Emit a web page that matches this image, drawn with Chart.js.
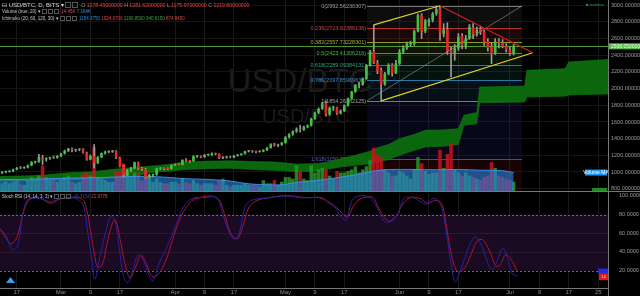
<!DOCTYPE html>
<html>
<head>
<meta charset="utf-8">
<script src="https://cdn.jsdelivr.net/npm/chart.js@4.4.1/dist/chart.umd.min.js"></script>
<style>
  body { margin:0; background:#000; width:640px; height:296px; overflow:hidden; position:relative; font-family:"Liberation Sans", Arial, sans-serif; }
  canvas { position:absolute; left:0; }
  .wm { position:absolute; color:#1b1b1b; white-space:nowrap; transform:translateX(-50%); line-height:1; }
  .row { position:absolute; left:2px; white-space:nowrap; color:#c8c8c8; font-size:4.5px; line-height:6px; z-index:5; }
  .b { display:inline-block; width:3px; height:3px; border:1px solid #555; margin-left:1px; vertical-align:middle; }
  .red { color:#e04848; } .blue { color:#2f8fe0; } .green { color:#3aa63a; } .gray { color:#9a9a9a; }
  .status { position:absolute; left:586px; top:2px; font-size:4px; line-height:5px; color:#2e9a6a; white-space:nowrap; z-index:5; }
</style>
</head>
<body>
<div class="wm" style="left:300px;top:64px;font-size:33px;">USD/BTC</div>
<div class="wm" style="left:306px;top:106px;font-size:20px;">USD/BTC</div>
<canvas id="priceCanvas" width="640" height="192" style="top:0"></canvas>
<canvas id="oscCanvas" width="640" height="104" style="top:192px"></canvas>

<div class="row" style="top:1px;font-size:6px;line-height:8px;color:#d8d8d8">&#8863; USD/BTC, D, BITS &#9662;<span class="b" style="width:4px;height:4px"></span><span class="b" style="width:4px;height:4px"></span>
  <span style="font-size:5.2px">&nbsp;<span class="gray">O</span> <span class="red">1278.49000000</span> <span class="gray">H</span> <span class="red">1281.62000000</span> <span class="gray">L</span> <span class="red">1175.97000000</span> <span class="gray">C</span> <span class="red">1219.80000000</span></span></div>
<div class="row" style="top:9px">Volume (true, 20) &#9662;<span class="b"></span><span class="b"></span><span class="b"></span>
  &nbsp;<span class="red">14.45K</span> <span class="blue">7.184K</span></div>
<div class="row" style="top:16px">Ichimoku (20, 60, 120, 30) &#9662;<span class="b"></span><span class="b"></span><span class="b"></span>
  &nbsp;<span class="blue">1154.3750</span> <span class="red">1024.6700</span> <span class="green">1190.8500</span> <span class="green">940.6150</span> <span class="red">874.9450</span></div>
<div class="row" style="top:194px">Stoch RSI (14, 14, 3, 3) &#9662;<span class="b"></span><span class="b"></span><span class="b"></span>
  &nbsp;<span style="color:#3a3ad0">16.7158</span> <span class="red">21.9778</span></div>
<div class="status">&#9632; realtime</div>

<script>
// ===== DATA: day 0 = 13 Feb, one candle per day =====
var openP = [992,998,1005,1010,1030,1058,1050,1056,1080,1118,
  1122,1175,1150,1164,1176,1170,1190,1222,1255,1283,
  1262,1268,1274,1234,1150,1192,1110,1178,1225,1240,
  1244,1252,1172,1070,968,1020,1045,1115,1043,1036,
  937,965,968,1040,1045,1040,1037,1078,1095,1088,
  1143,1138,1130,1190,1192,1180,1205,1208,1225,1215,
  1168,1176,1178,1176,1195,1206,1218,1246,1254,1245,
  1244,1248,1262,1288,1334,1318,1328,1350,1418,1452,
  1488,1515,1505,1542,1556,1638,1712,1758,1825,1690,
  1772,1775,1705,1730,1798,1882,1962,2042,2048,2120,
  2280,2445,2310,2220,2050,2180,2285,2185,2300,2440,
  2490,2530,2535,2690,2880,2690,2798,2822,2900,2955,
  2655,2712,2462,2430,2484,2634,2514,2604,2732,2664,
  2712,2684,2564,2504,2424,2564,2552,2512,2464,2426];
var highP = [1005,1012,1016,1035,1055,1065,1062,1085,1125,1130,
  1212,1200,1172,1180,1192,1198,1228,1262,1285,1290,
  1275,1280,1280,1240,1205,1330,1185,1230,1250,1255,
  1260,1258,1180,1080,1030,1055,1120,1120,1055,1045,
  975,975,1048,1052,1050,1050,1085,1095,1105,1148,
  1160,1140,1195,1200,1195,1210,1215,1230,1228,1218,
  1185,1185,1190,1200,1212,1222,1250,1260,1258,1250,
  1255,1268,1295,1340,1345,1335,1355,1425,1460,1495,
  1530,1560,1550,1565,1645,1720,1770,1835,1850,1780,
  1790,1780,1745,1805,1890,1970,2050,2075,2130,2290,
  2460,2765,2340,2250,2195,2300,2300,2340,2470,2515,
  2560,2570,2705,2895,2900,2830,2840,2915,2992.56,2980,
  2780,2790,2500,2530,2660,2660,2640,2770,2780,2740,
  2750,2700,2600,2545,2600,2600,2590,2540,2500,2530];
var lowP = [980,990,998,1005,1025,1040,1042,1050,1075,1105,
  1115,1090,1130,1150,1162,1165,1185,1215,1245,1240,
  1245,1255,1225,1140,1145,1050,1100,1170,1215,1230,
  1235,1160,1060,940,960,1005,1040,1030,1020,925,
  930,940,960,1030,1025,1030,1035,1075,1085,1085,
  1125,1115,1128,1175,1170,1175,1195,1200,1205,1160,
  1160,1165,1170,1170,1190,1200,1215,1240,1235,1230,
  1238,1242,1255,1285,1310,1305,1320,1345,1405,1440,
  1475,1480,1500,1530,1550,1630,1700,1750,1670,1680,
  1740,1690,1695,1725,1790,1875,1955,2010,2040,2110,
  2270,2300,2180,1854.26,2040,2165,2150,2180,2290,2420,
  2470,2510,2520,2680,2600,2670,2750,2800,2880,2580,
  2620,2410,2140,2340,2460,2480,2480,2590,2600,2630,
  2650,2520,2450,2300,2410,2490,2490,2440,2400,2405];
var closeP = [998,1005,1010,1030,1048,1052,1056,1080,1118,1122,
  1180,1150,1164,1172,1170,1192,1222,1255,1280,1262,
  1268,1274,1234,1150,1192,1110,1178,1225,1240,1244,
  1252,1172,1070,968,1020,1045,1115,1043,1036,937,
  965,968,1040,1045,1040,1037,1078,1088,1088,1143,
  1138,1130,1190,1192,1180,1205,1208,1225,1215,1168,
  1176,1178,1176,1195,1206,1218,1246,1254,1245,1244,
  1248,1262,1288,1334,1318,1328,1350,1418,1452,1488,
  1510,1505,1542,1556,1638,1712,1758,1825,1690,1772,
  1775,1705,1730,1798,1882,1962,2042,2048,2120,2280,
  2445,2310,2210,2050,2180,2285,2185,2300,2440,2490,
  2540,2560,2690,2880,2690,2820,2822,2900,2955,2665,
  2712,2448,2430,2484,2622,2518,2602,2742,2652,2702,
  2676,2552,2488,2418,2564,2546,2506,2466,2426,2508.05];
// volume in thousands of BTC
var volumeK = [5,6,5,6,7,5,4,7,9,8,
  10,16.6,9,7,8,6,8,9,10,6,
  5,6,11,12,10,28.5,9,8,7,6,
  6,13,13,18,12,9,12,12,7,13,
  9,6,8,6,5,5,6,6,5,8,
  6,5,7,5,4,5,5,5,4,7,
  8,4,3,4,4,4,5,4,4,4,
  3,7,5,5,7,4,6,9,9,8,
  16.6,13,8,7,16.6,12,14,15,14,10,
  8,13,12,12,13,14,16,12,14,16,
  20,28,23.7,22,14,12,10,10,13,12,
  10,8,14,22,18,13,11,12,12,26.8,
  15,24,30.7,14,12,10,12,10,9,8,
  7,9,10,18.7,15,10,9,8,7,6];
var volMaDays = [-0.6,5,10,16,22,28,32,38,44,50,56,62,66,70,76,80,86,92,96,100,104,110,118,124,130,136,139];
var volMaK = [7.5,7.5,7.8,8.2,8.5,8.8,9.2,9.5,9.0,8.0,7.5,6.5,5.0,4.2,4.0,5.5,7.0,9.0,10.5,12.5,13.8,14.0,13.8,14.0,13.5,13.2,12.0];

// Ichimoku cloud edges (projected 30 days ahead)
var cloudDays = [-0.6,8,12,18,24,30,36,40,44,50,56,62,68,74,80,85,88,92,96,100,102,105,108,112,115,120,124,125.5,129,129.8,142,142.6,153,154,164.7];
var cloudTop = [945,955,965,990,1000,1030,1055,1070,1085,1120,1130,1135,1125,1120,1095,1100,1115,1160,1200,1250,1290,1330,1400,1450,1500,1505,1520,1680,1715,2020,2030,2220,2240,2320,2350];
var cloudBot = [890,895,900,905,915,930,945,990,1005,1030,1040,1045,1030,1020,1005,1010,1030,1060,1080,1100,1120,1150,1200,1260,1300,1310,1330,1560,1580,1830,1840,1900,1910,1925,1935];

// Stoch RSI
var stochKDays = [-0.6,1,2.2,3.3,4.4,5.5,6.6,7.7,10.5,12.7,14.4,16,18.8,21,22.2,23.3,24.4,25.2,26.6,28.3,29.6,30.8,31.8,33,34.2,35.5,37.1,38.5,39.9,41,42.7,44.9,47.1,49.3,51.6,54.9,58.2,59.9,61.5,62.9,64.3,66,67.6,70.4,72.6,77,81.5,83.7,87.1,88.2,90.4,92.1,93.5,95.1,97,99.8,102,103.7,105.4,107.6,109.2,111.5,113.7,115.3,117,118.7,119.8,120.9,122,123.1,124.2,125.9,127.5,128.6,130.3,132,133.1,134.5,136.1,137.5,138.6,140];
var stochK = [65,58,46,42,49,78,94,97,97,94,95,97,98,95,88,60,31,11,35,63,78,71,46,14,7,21,37,30,15,9,28,46,67,88,97,98,98,81,63,54,58,88,95,97,98,100,98,98,98,94,88,78,74,95,100,98,87,73,72,81,97,98,94,91,97,94,81,56,28,8,17,35,51,56,47,28,21,30,44,31,17,14];
var stochDDays = [-0.6,2.2,3.3,4.4,6,7.7,10.5,13.3,16,21.5,23,24,25.2,26,27.2,28.5,30,30.8,32.1,33.2,34.7,36,37.7,39.1,40.7,42.1,44.2,46,48.2,50.5,52.7,58.2,60.4,62,63.8,65.4,67.1,69.3,72.6,77,82.6,86,89.3,91.5,93.7,96,98.2,100.8,102.3,105,107,108.7,110.9,113.7,115.5,117.8,119.4,120.6,122,123.7,125.3,127,129,130.5,132.5,134.2,135.3,136.9,138.6,140];
var stochD = [65,49,51,60,85,97,97,92,97,97,85,63,35,24,26,49,71,74,53,31,12,21,36,28,14,15,28,49,74,90,97,98,81,61,54,67,88,95,98,100,98,98,92,85,78,92,98,98,87,73,78,90,98,97,92,95,92,71,39,19,21,33,51,53,41,25,26,37,30,19];

// Fibonacci retracement (drawn from the May low to the June high)
var fibLevels = ['0','0.236','0.382','0.5','0.618','0.786','1','1.618'];
var fibPrices = [2992.56230307,2723.92386136,2557.73228301,2423.41306216,2289.09384131,2097.85969636,1854.26382125,1150.78535950];
var fibStartDay = 99.2, fibEndDay = 141.3;
var fibLine = ['#7a7a7a','#b83030','#8e9a2e','#3d9a3d','#22876a','#2a78a8','#7a7a7a','#4646a8'];
var fibText = ['#9a9a9a','#d04545','#a9b43e','#4fb24f','#2fa283','#3790d0','#a0a0a0','#5a5ad0'];
var fibZone = ['rgba(120,120,120,0.10)','rgba(190,60,40,0.13)','rgba(150,150,40,0.13)','rgba(60,160,60,0.12)','rgba(30,150,120,0.12)','rgba(40,120,170,0.12)','rgba(40,40,150,0.17)','rgba(150,25,25,0.16)'];

// hand drawn trend lines
var channelTop = [{x:101, y:2765}, {x:119, y:2995}];
var channelBottom = [{x:103, y:1854}, {x:144.2, y:2431}];
var fallingLine = [{x:119, y:2995}, {x:144.2, y:2431}];
var fibDiagonal = [{x:fibStartDay, y:1854.26}, {x:fibEndDay, y:2992.56}];
var lastPrice = 2508.05;

// axes
var tickDays = [4,16,24,32,47,55,63,77,85,93,108,116,124,138,146,154,162];
var tickLabels = ['17','Mar','9','17','Apr','9','17','May','9','17','Jun','9','17','Jul','9','17','25'];
var priceTicks = [800,1000,1200,1400,1600,1800,2000,2200,2400,2600,2800,3000];
var stochTicks = [20,40,60,80,100];
var xMin = -0.57, xMax = 164.65;

// ===== BUILD POINTS =====
var bodies = [], wicks = [], vols = [], bodyColors = [], volColors = [];
for (var i = 0; i < closeP.length; i++) {
    var up = closeP[i] >= openP[i];
    bodies.push({x: i, y: [openP[i], closeP[i]]});
    wicks.push({x: i, y: [lowP[i], highP[i]]});
    vols.push({x: i, y: volumeK[i]});
    bodyColors.push(up ? '#3cc43c' : '#e82424');
    volColors.push(up ? 'rgba(40,150,40,0.85)' : 'rgba(200,20,30,0.85)');
}
function pairs(days, vals) {
    var out = [];
    for (var i = 0; i < days.length; i++) out.push({x: days[i], y: vals[i]});
    return out;
}

var xTicksHook = function(scale) {
    scale.ticks = tickDays.map(function(v) { return {value: v}; });
};
// keep the plot area exactly on the pane edges
var noPadY = function(width) {
    return function(s) { s.width = width; s.paddingTop = 0; s.paddingBottom = 0; };
};
var noPadX = function(height) {
    return function(s) { s.height = height; s.paddingLeft = 0; s.paddingRight = 0; };
};

// ===== PLUGINS =====
var fibPlugin = {
    id: 'fibZones',
    beforeDatasetsDraw: function(chart) {
        var ctx = chart.ctx, a = chart.chartArea;
        var xs = chart.scales.x, ys = chart.scales.y;
        var x1 = xs.getPixelForValue(fibStartDay), x2 = xs.getPixelForValue(fibEndDay);
        ctx.save();
        ctx.beginPath();
        ctx.rect(a.left, a.top, a.right - a.left, a.bottom - a.top);
        ctx.clip();
        for (var i = 0; i < fibPrices.length; i++) {
            var ya = ys.getPixelForValue(fibPrices[i]);
            var yb = i + 1 < fibPrices.length ? ys.getPixelForValue(fibPrices[i + 1]) : a.bottom;
            ctx.fillStyle = fibZone[i];
            ctx.fillRect(x1, ya, x2 - x1, yb - ya);
        }
        ctx.font = '5.5px "Liberation Sans", Arial, sans-serif';
        ctx.textAlign = 'right';
        ctx.textBaseline = 'middle';
        for (var j = 0; j < fibPrices.length; j++) {
            var y = Math.round(ys.getPixelForValue(fibPrices[j])) + 0.5;
            ctx.strokeStyle = fibLine[j];
            ctx.lineWidth = 1;
            ctx.beginPath();
            ctx.moveTo(x1, y);
            ctx.lineTo(x2, y);
            ctx.stroke();
            ctx.fillStyle = fibText[j];
            ctx.fillText(fibLevels[j] + '(' + fibPrices[j].toFixed(8) + ')', x1 - 1, y);
        }
        // last price line
        var yp = Math.round(ys.getPixelForValue(lastPrice)) + 0.5;
        ctx.strokeStyle = 'rgba(90,190,70,0.8)';
        ctx.beginPath();
        ctx.moveTo(a.left, yp);
        ctx.lineTo(a.right, yp);
        ctx.stroke();
        ctx.restore();
    },
    afterDraw: function(chart) {
        var ctx = chart.ctx, a = chart.chartArea, ys = chart.scales.y, yv = chart.scales.yv;
        ctx.save();
        ctx.font = '5px "Liberation Sans", Arial, sans-serif';
        ctx.textBaseline = 'middle';
        // last price label on the axis
        var yp = ys.getPixelForValue(lastPrice);
        ctx.fillStyle = '#5cb84a';
        ctx.fillRect(a.right + 1, yp - 3, 40, 6);
        ctx.fillStyle = '#f0fff0';
        ctx.textAlign = 'left';
        ctx.fillText(lastPrice.toFixed(8), a.right + 3, yp);
        // volume MA label
        var ym = yv.getPixelForValue(volMaK[volMaK.length - 1]);
        ctx.fillStyle = '#2196f3';
        ctx.fillRect(a.right - 23, ym - 3, 22, 6);
        ctx.fillStyle = '#ffffff';
        ctx.textAlign = 'center';
        ctx.fillText('Volume MA', a.right - 12, ym);
        // ichimoku tag
        ctx.fillStyle = '#1f8a1f';
        ctx.fillRect(a.right - 16, a.bottom - 3, 15, 3);
        // separators
        ctx.strokeStyle = '#777';
        ctx.lineWidth = 1;
        ctx.beginPath();
        ctx.moveTo(0, a.bottom + 0.5);
        ctx.lineTo(640, a.bottom + 0.5);
        ctx.moveTo(a.right + 0.5, 0);
        ctx.lineTo(a.right + 0.5, a.bottom);
        ctx.stroke();
        ctx.restore();
    }
};

var stochPlugin = {
    id: 'stochBands',
    beforeDatasetsDraw: function(chart) {
        var ctx = chart.ctx, a = chart.chartArea, ys = chart.scales.y;
        var y80 = ys.getPixelForValue(80), y20 = ys.getPixelForValue(20);
        ctx.save();
        ctx.fillStyle = '#1a0a22';
        ctx.fillRect(a.left, y80, a.right - a.left, y20 - y80);
        ctx.strokeStyle = '#2a1a30';
        ctx.lineWidth = 1;
        [60, 40].forEach(function(v) {
            var y = Math.round(ys.getPixelForValue(v)) + 0.5;
            ctx.beginPath(); ctx.moveTo(a.left, y); ctx.lineTo(a.right, y); ctx.stroke();
        });
        ctx.strokeStyle = '#6a6a6a';
        ctx.setLineDash([2, 2]);
        [80, 20].forEach(function(v) {
            var y = Math.round(ys.getPixelForValue(v)) + 0.5;
            ctx.beginPath(); ctx.moveTo(a.left, y); ctx.lineTo(a.right, y); ctx.stroke();
        });
        ctx.restore();
    },
    afterDraw: function(chart) {
        var ctx = chart.ctx, a = chart.chartArea, ys = chart.scales.y;
        ctx.save();
        var yd = ys.getPixelForValue(stochD[stochD.length - 1]);
        var yk = ys.getPixelForValue(stochK[stochK.length - 1]);
        ctx.fillStyle = '#2828d8';
        ctx.fillRect(a.right - 10, yd - 3, 10, 5);
        ctx.fillStyle = '#e01818';
        ctx.fillRect(a.right - 9, yk - 3, 9, 7);
        ctx.fillStyle = '#ffd0d0';
        ctx.font = '4px "Liberation Sans", Arial, sans-serif';
        ctx.textAlign = 'center';
        ctx.textBaseline = 'middle';
        ctx.fillText(stochK[stochK.length - 1].toFixed(0), a.right - 4.5, yk + 0.5);
        ctx.strokeStyle = '#777';
        ctx.lineWidth = 1;
        ctx.beginPath();
        ctx.moveTo(0, a.bottom + 0.5);
        ctx.lineTo(a.right, a.bottom + 0.5);
        ctx.moveTo(a.right + 0.5, 0);
        ctx.lineTo(a.right + 0.5, chart.height);
        ctx.stroke();
        // small logo mark
        ctx.fillStyle = '#3d9ee8';
        ctx.beginPath();
        ctx.moveTo(6, 91); ctx.lineTo(10.5, 85); ctx.lineTo(15, 91); ctx.closePath();
        ctx.fill();
        ctx.restore();
    }
};

// ===== PRICE CHART =====
var lineBase = { type: 'line', pointRadius: 0, tension: 0, borderWidth: 1, fill: false };
new Chart(document.getElementById('priceCanvas'), {
    type: 'bar',
    data: {
        datasets: [
            Object.assign({}, lineBase, { data: pairs(cloudDays, cloudTop), borderColor: '#118011', borderWidth: 0.6,
                fill: '+1', backgroundColor: 'rgba(12,112,12,0.92)', order: 60 }),
            Object.assign({}, lineBase, { data: pairs(cloudDays, cloudBot), borderColor: '#118011', borderWidth: 0.6, order: 61 }),
            { type: 'bar', data: vols, yAxisID: 'yv', backgroundColor: volColors, grouped: false,
              barPercentage: 0.95, categoryPercentage: 1, order: 50 },
            Object.assign({}, lineBase, { data: pairs(volMaDays, volMaK), yAxisID: 'yv', tension: 0.3,
                borderColor: 'rgba(60,150,235,0.9)', fill: 'origin', backgroundColor: 'rgba(40,128,225,0.62)', order: 45 }),
            { type: 'bar', data: wicks, backgroundColor: '#9a9a9a', grouped: false, barThickness: 1, order: 20 },
            { type: 'bar', data: bodies, backgroundColor: bodyColors, grouped: false, minBarLength: 1,
              barPercentage: 0.72, categoryPercentage: 1, order: 15 },
            Object.assign({}, lineBase, { data: fibDiagonal, borderColor: 'rgba(150,150,150,0.6)', order: 8 }),
            Object.assign({}, lineBase, { data: channelTop, borderColor: '#e0d020', borderWidth: 1.2, order: 5 }),
            Object.assign({}, lineBase, { data: channelBottom, borderColor: '#e0d020', borderWidth: 1.2, order: 5 }),
            Object.assign({}, lineBase, { data: fallingLine, borderColor: '#d02020', borderWidth: 1.2, order: 4 })
        ]
    },
    options: {
        responsive: false,
        animation: false,
        layout: { padding: { top: 0, bottom: 1, left: 0, right: 0 } },
        plugins: { legend: { display: false }, tooltip: { enabled: false } },
        scales: {
            x: {
                type: 'linear', min: xMin, max: xMax, offset: false,
                afterBuildTicks: xTicksHook, afterFit: noPadX(0),
                grid: { color: '#191919', drawTicks: false, offset: false },
                border: { display: false },
                ticks: { display: false }
            },
            y: {
                position: 'right', min: 772, max: 3063.6,
                afterBuildTicks: function(s) { s.ticks = priceTicks.map(function(v) { return {value: v}; }); },
                afterFit: noPadY(32),
                grid: { color: '#151515', drawTicks: false },
                border: { display: false },
                ticks: { color: '#9c9c9c', padding: 3, font: { size: 5.5, family: '"Liberation Sans", Arial, sans-serif' },
                    callback: function(v) { return Number(v).toFixed(8); } }
            },
            yv: { display: false, min: 0, max: 124 }
        }
    },
    plugins: [fibPlugin]
});

// ===== STOCH RSI CHART =====
new Chart(document.getElementById('oscCanvas'), {
    type: 'line',
    data: {
        datasets: [
            Object.assign({}, lineBase, { data: pairs(stochKDays, stochK), borderColor: '#2323a8', tension: 0.4 }),
            Object.assign({}, lineBase, { data: pairs(stochDDays, stochD), borderColor: '#b01232', tension: 0.4 })
        ]
    },
    options: {
        responsive: false,
        animation: false,
        layout: { padding: { top: 1, bottom: 0, left: 0, right: 0 } },
        plugins: { legend: { display: false }, tooltip: { enabled: false } },
        scales: {
            x: {
                type: 'linear', min: xMin, max: xMax,
                afterBuildTicks: xTicksHook, afterFit: noPadX(8),
                grid: { color: '#191919', drawTicks: false },
                border: { display: false },
                ticks: { color: '#8c8c8c', padding: 1, maxRotation: 0, autoSkip: false,
                    font: { size: 6, family: '"Liberation Sans", Arial, sans-serif' },
                    callback: function(v, idx) { return tickLabels[idx]; } }
            },
            y: {
                position: 'right', min: 1.39, max: 103,
                afterBuildTicks: function(s) { s.ticks = stochTicks.map(function(v) { return {value: v}; }); },
                afterFit: noPadY(32),
                grid: { display: false },
                border: { display: false },
                ticks: { color: '#9c9c9c', padding: 3, font: { size: 5.5, family: '"Liberation Sans", Arial, sans-serif' },
                    callback: function(v) { return Number(v).toFixed(4); } }
            }
        }
    },
    plugins: [stochPlugin]
});
</script>
</body>
</html>
